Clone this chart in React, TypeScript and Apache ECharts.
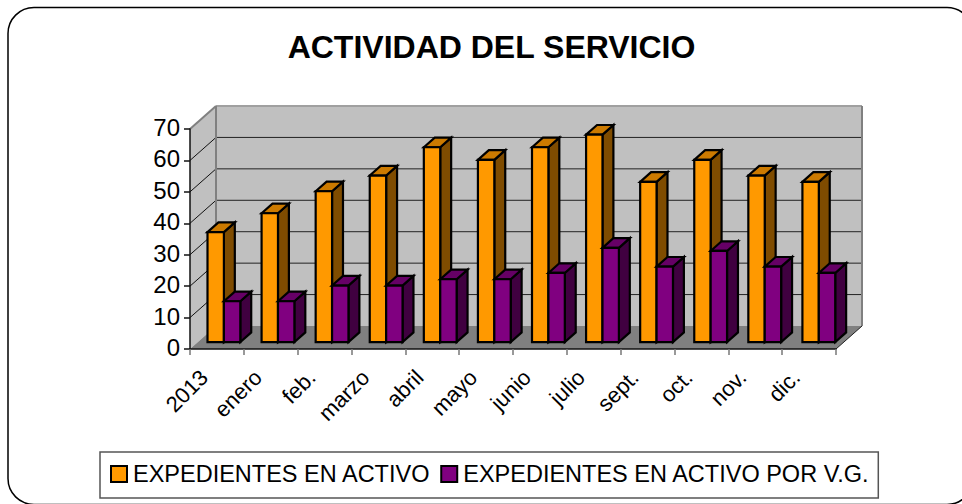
import React, { useEffect, useRef } from "react";
import * as echarts from "echarts";

const titleText = "ACTIVIDAD DEL SERVICIO";
const months = ["2013", "enero", "feb.", "marzo", "abril", "mayo", "junio", "julio", "sept.", "oct.", "nov.", "dic."];
const activos = [35, 41, 48, 53, 62, 58, 62, 66, 51, 58, 53, 51];
const activosVG = [13, 13, 18, 18, 20, 20, 22, 30, 24, 29, 24, 22];
const gridValues = [10, 20, 30, 40, 50, 60, 70];
const seriesNames = ["EXPEDIENTES EN ACTIVO", "EXPEDIENTES EN ACTIVO POR V.G."];

const DEPTH_X = 26;
const DEPTH_Y = -23;
const INSET = 0.3;
const BAR_DEPTH = 0.42;

const poly = (points: number[][], fill: string, stroke: string, lineWidth = 2.2) => ({
  type: "polygon",
  shape: { points },
  style: { fill, stroke, lineWidth, lineJoin: "miter" },
});
const line = (a: number[], b: number[], stroke: string, lineWidth = 1.5) => ({
  type: "line",
  shape: { x1: a[0], y1: a[1], x2: b[0], y2: b[1] },
  style: { stroke, lineWidth },
});

const renderWalls = (_: any, api: any) => {
  const band = api.size([1, 0])[0];
  const p = (i: number, v: number) => {
    const c = api.coord([i, v]);
    return [c[0] - band / 2, c[1]];
  };
  const n = months.length;
  const bl = p(0, 0), tl = p(0, 70), br = p(n, 0);
  const back = (q: number[]) => [q[0] + DEPTH_X, q[1] + DEPTH_Y];
  const children: any[] = [
    poly([bl, tl, back(tl), back(bl)], "#C0C0C0", "none", 0),
    poly([back(bl), back(tl), back(p(n, 70)), back(br)], "#C0C0C0", "none", 0),
    poly([bl, br, back(br), back(bl)], "#808080", "none", 0),
  ];
  gridValues.slice(0, -1).forEach((v) => {
    const q = p(0, v);
    children.push(line(q, back(q), "#111", 1));
    children.push(line(back(q), back(p(n, v)), "#222", 1));
  });
  children.push(line(tl, back(tl), "#808080", 2));
  children.push(line(back(tl), back(p(n, 70)), "#A0A0A0", 2));
  children.push(line(back(bl), back(tl), "#808080", 2));
  children.push(line(back(br), back(p(n, 70)), "#808080", 2));
  children.push(line(br, back(br), "#222", 1));
  return { type: "group", children };
};

const renderBar = (slot: number, front: string, top: string, side: string) => (_: any, api: any) => {
  const i = api.value(0);
  const v = api.value(1);
  const band = api.size([1, 0])[0];
  const c0 = api.coord([i, 0]);
  const cv = api.coord([i, v]);
  const ox = DEPTH_X * INSET;
  const oy = DEPTH_Y * INSET;
  const w = 16.4;
  const x0 = c0[0] - band / 2 + ox + 9.7 + slot * w + i * 0.25;
  const x1 = x0 + w;
  const yb = c0[1] + oy;
  const yt = cv[1] + oy;
  const dx = DEPTH_X * BAR_DEPTH;
  const dy = DEPTH_Y * BAR_DEPTH;
  return {
    type: "group",
    children: [
      poly([[x1, yb], [x1, yt], [x1 + dx, yt + dy], [x1 + dx, yb + dy]], side, "#000"),
      poly([[x0, yt], [x0 + dx, yt + dy], [x1 + dx, yt + dy], [x1, yt]], top, "#000"),
      poly([[x0, yb], [x0, yt], [x1, yt], [x1, yb]], front, "#000"),
    ],
  };
};

export default function App() {
  const ref = useRef<HTMLDivElement>(null);
  useEffect(() => {
    document.body.style.margin = "0";
    const chart = echarts.init(ref.current!, null, { renderer: "svg" });
    const font = "'Liberation Sans', Arial, sans-serif";
    chart.setOption({
      animation: false,
      backgroundColor: "#fff",
      textStyle: { fontFamily: font },
      title: {
        text: titleText,
        left: 486.5,
        top: 26,
        textAlign: "center",
        textStyle: { fontSize: 32, fontWeight: "bold", color: "#000", fontFamily: font },
      },
      graphic: [
        {
          type: "rect",
          shape: { x: 8, y: 7.5, width: 965, height: 497, r: 26 },
          style: { fill: "none", stroke: "#000", lineWidth: 1.5 },
          silent: true,
        },
      ],
      legend: {
        left: 100,
        top: 452,
        width: 790,
        padding: [10, 8.5, 12, 10],
        itemWidth: 16,
        itemHeight: 16,
        itemGap: 9.5,
        borderColor: "#555",
        borderWidth: 1.5,
        icon: "rect",
        data: seriesNames.map((name) => ({ name })),
        textStyle: { fontSize: 23.5, color: "#000", fontFamily: font, padding: [0, 0, 0, 1] },
      },
      grid: { left: 190, right: 126, top: 129, bottom: 155 },
      xAxis: {
        type: "category",
        data: months,
        boundaryGap: true,
        axisLine: { show: true, lineStyle: { color: "#111", width: 1.5 } },
        axisTick: { show: true, length: 6, lineStyle: { color: "#777", width: 1.5 } },
        splitLine: { show: false },
        axisLabel: { rotate: 45, interval: 0, fontSize: 22, color: "#000", margin: 12, padding: [0, 18, 0, 0], fontFamily: font },
        z: 5,
      },
      yAxis: {
        type: "value",
        min: 0,
        max: 70,
        interval: 10,
        axisLine: { show: true, lineStyle: { color: "#111", width: 1.5 } },
        axisTick: { show: true, length: 6, lineStyle: { color: "#111", width: 1.5 } },
        splitLine: { show: false },
        axisLabel: { fontSize: 24, color: "#000", margin: 10, verticalAlign: "bottom", lineHeight: 3, fontFamily: font },
        z: 5,
      },
      series: [
        {
          type: "custom",
          silent: true,
          z: 1,
          renderItem: renderWalls,
          data: [[0, 0]],
          encode: { x: 0, y: 1 },
          legendHoverLink: false,
          name: "walls",
        },
        {
          type: "custom",
          name: seriesNames[0],
          z: 2,
          itemStyle: { color: "#FF9900", borderColor: "#000", borderWidth: 2 },
          renderItem: renderBar(0, "#FF9900", "#CC7A00", "#7F4C00"),
          data: activos.map((v, i) => [i, v]),
          encode: { x: 0, y: 1 },
        },
        {
          type: "custom",
          name: seriesNames[1],
          z: 3,
          itemStyle: { color: "#800080", borderColor: "#000", borderWidth: 2 },
          renderItem: renderBar(1, "#800080", "#660066", "#400040"),
          data: activosVG.map((v, i) => [i, v]),
          encode: { x: 0, y: 1 },
        },
      ],
    });
    return () => chart.dispose();
  }, []);
  return <div ref={ref} style={{ position: "fixed", left: 0, top: 0, width: 962, height: 504 }} />;
}
